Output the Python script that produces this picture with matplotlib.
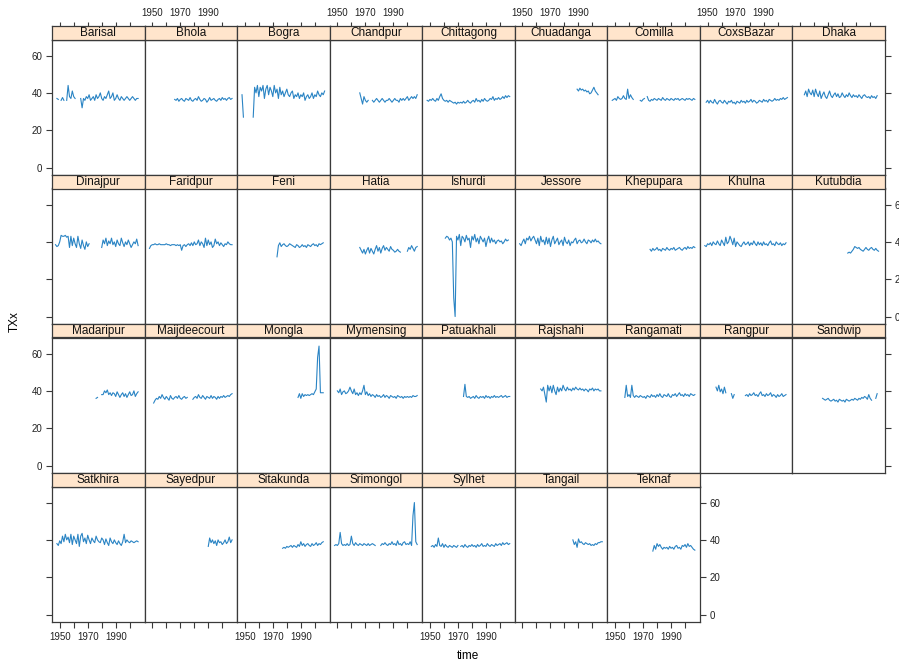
import numpy as np
import matplotlib
matplotlib.use("Agg")
import matplotlib.pyplot as plt

plt.rcParams['font.family'] = ['Liberation Sans', 'DejaVu Sans']

# ---------------- data ----------------
stations = ["Barisal", "Bhola", "Bogra", "Chandpur", "Chittagong", "Chuadanga", "Comilla",
            "CoxsBazar", "Dhaka", "Dinajpur", "Faridpur", "Feni", "Hatia", "Ishurdi", "Jessore",
            "Khepupara", "Khulna", "Kutubdia", "Madaripur", "Maijdeecourt", "Mongla", "Mymensing",
            "Patuakhali", "Rajshahi", "Rangamati", "Rangpur", "Sandwip", "Satkhira", "Sayedpur",
            "Sitakunda", "Srimongol", "Sylhet", "Tangail", "Teknaf"]

start_years = [1948, 1966, 1948, 1966, 1948, 1989, 1948, 1949, 1953, 1947, 1948, 1973, 1966, 1961,
               1948, 1975, 1948, 1984, 1976, 1951, 1988, 1950, 1974, 1963, 1957, 1956, 1966, 1948,
               1990, 1977, 1948, 1951, 1986, 1977]

barisal = [37, 36.5, None, 36, 37.5, 36, None, 36, 44, 38, 37, 41, 38, 37, None, None, None, 37, 32,
           37, 36, 38, 37, 39, 36, 37, 38, 36, 39, 37, 38, 40, 37, 36, 38, 37, 39, 41, 37, 38, 40,
           36, 37, 39, 37, 36, 38, 37, 36, 37, 38, 37, 36, 37, 38, 37, 36, 37, 37]
bhola = [36.5, 36, 37, 35.5, 36.5, 37, 36, 35.5, 37, 36.5, 36, 37.5, 36, 35.5, 36.5, 37, 36, 38,
         36.5, 35.5, 36, 37, 36.5, 35, 36, 37.5, 36, 36.5, 37, 36, 35.5, 36.5, 37, 36, 37.5, 36.5,
         37, 36, 37, 37.5, 36.5, 37]
bogra = [39, 27, None, None, None, None, None, None, 27, 43, 40, 44, 38, 43, 41, 44, 37, 42, 44, 39,
         43, 41, 38, 44, 40, 42, 37, 43, 39, 41, 38, 40, 42, 39, 38, 40, 41, 37, 39, 38, 40, 37, 39,
         38, 40, 36, 38, 39, 37, 38, 40, 37, 39, 38, 41, 39, 38, 40, 39, 41]
chandpur = [40, 37, 34, 38, 36, 35, 36, None, None, 36, 35, 36, 37, 36, 35, 36, 37, 36, 35, 36, 36,
            37, 36, 35, 36, 37, 36, 36, 35, 37, 36, 37, 36, 37, 38, 36, 37, 38, 37, 38, 37, 39]
chittagong = [36, 35.5, 36.5, 36, 37, 36, 35.5, 37, 36, 38, 39.5, 37, 36, 35.5, 36, 35, 36, 35.5,
              35, 34.5, 35, 34, 35, 34.5, 35, 34.5, 35.5, 34.5, 35, 36, 35, 34.5, 35.5, 36, 35, 37,
              35.5, 36, 35, 36.5, 35.5, 37, 36, 35.5, 36, 37, 36.5, 38, 36, 37, 36.5, 37.5, 36.5,
              37, 38, 37, 38.5, 37.5, 38.5, 38]
chuadanga = [42, 41, 42.5, 41.5, 42, 41, 41.5, 40.5, 41, 39.5, 40, 41.5, 43, 41, 40, 39]
comilla = [36, 36.5, 37, 36, 38, 37, 36.5, 37, 38.5, 37, 36.5, 42, 37, 39, 37.5, 36.5, None, 36,
           None, None, 36, 35.5, 36.5, 37, None, 38, 36, 35.5, 36.5, 36, 37, 36.5, 36, 37, 36.5,
           36, 37.5, 36.5, 36, 37, 36.5, 36, 37, 36.5, 36, 37, 36.5, 37, 36, 36.5, 37, 36.5, 36,
           37, 36.5, 37, 36.5, 36, 37, 36.5]
coxsbazar = [35, 36, 34.5, 36, 35, 34.5, 36.5, 35, 34, 35.5, 36, 35, 34.5, 36, 35, 34, 35.5, 35, 36,
             34.5, 35, 34, 35.5, 35, 34.5, 36, 35, 35.5, 34.5, 36, 35, 35.5, 36.5, 35, 36, 35.5,
             34.5, 35, 36, 35.5, 35, 36.5, 35.5, 36, 35, 36.5, 36, 35.5, 36, 37, 36, 36.5, 36, 37,
             36.5, 37.5, 36.5, 37, 37.5]
dhaka = [39, 41, 38, 42, 40, 39, 41.5, 38, 42, 39.5, 38, 41, 37, 39, 40.5, 38, 37, 39, 41, 38.5,
         37.5, 39, 40, 38, 39.5, 37.5, 38, 40, 38.5, 37.5, 39, 38, 40, 38.5, 37.5, 39, 38, 38.5,
         37.5, 39, 38, 37, 38.5, 39, 38, 37.5, 38, 37, 38.5, 37.5, 38, 37, 38.5]
dinajpur = [38.5, 37.5, 38, 40, 43.5, 43, 43, 43.5, 42.5, 43, 37, 43, 38, 42, 39, 37, 43, 39, 36.5,
            41, 38, 36, 40, 37.5, 39, None, None, None, None, None, None, None, None, 37, 41, 39,
            42, 38, 40.5, 39, 42, 38.5, 40, 37.5, 41, 39, 38, 42, 39.5, 37.5, 40, 38.5, 41, 39, 37,
            38.5, 40, 39, 41.5, 38]
faridpur = [36.5, 38, 38.5, 38.5, 39, 38.5, 38.5, 39, 38.5, 38.5, 38.5, 38.5, 39, 38.5, 38.5, 38,
            38.5, 38.5, 38.5, 38, 38.5, 38, 38.5, 35.5, 38, 38.5, 37.5, 38.5, 39, 38, 39.5, 38, 40,
            38.5, 39, 41, 38, 40, 39, 37, 42, 38, 41, 38.5, 40, 37, 38, 41.5, 39, 40, 38, 39.5, 38.5,
            37.5, 39, 38.5, 40, 39, 38.5, 38.5]
feni = [32, 38, 39.5, 37.5, 38.5, 39, 38, 37.5, 38, 39, 38.5, 38, 37.5, 37, 38.5, 38, 37, 37.5,
        38.5, 37.5, 38, 37, 38.5, 38, 37.5, 38.5, 39, 38, 38.5, 37.5, 39, 38.5, 39, 39.5]
hatia = [37, 35.5, 34, 36, 33.5, 35.5, 37, 34, 36.5, 35, 33.5, 36, 38, 35, 37, 34, 36.5, 38, 35.5,
         37, 36, 35, 37.5, 36, 35.5, 34.5, 35, 36, 35, 34.5, None, None, None, None, 35, 37, 36, 38,
         36.5, 35, 37, 37.5]
ishurdi = [42, 43, 42.5, 41, 42, 40, 10, 0, 43, 41, 44, 38, 43, 42, 40, 43.5, 41, 42, 37, 43, 41, 44,
           40, 42, 39, 43, 41.5, 40, 42, 37.5, 41, 43, 39.5, 42, 40, 41, 39, 40.5, 41, 40, 40.5, 39,
           40, 41.5, 40.5, 41]
jessore = [39, 38, 40, 41.5, 39, 42, 41, 43, 40.5, 42, 43, 41, 39, 42, 38, 43, 40, 41, 38.5, 42.5,
           39, 42, 37.5, 41, 43, 39, 40.5, 42, 38.5, 40, 41, 38, 42.5, 40, 39, 41, 38, 40, 39.5, 41,
           42, 39, 40.5, 41, 39.5, 40, 41.5, 40, 39, 41, 40.5, 39.5, 41, 40, 41.5, 40, 40.5, 39.5, 39]
khepupara = [36, 35, 36.5, 35.5, 36, 37, 35.5, 36, 35, 36.5, 36, 35.5, 37, 36, 35.5, 36.5, 36, 37,
             35.5, 36, 36.5, 37, 36, 35.5, 36.5, 37, 36, 37.5, 36.5, 37, 36.5, 37.5, 37]
khulna = [38, 37.5, 39, 38.5, 39.5, 38, 40, 39, 38.5, 40.5, 39, 38, 41, 39.5, 38, 42.5, 39, 40, 43,
          41, 38.5, 42, 37.5, 40, 39, 38, 37.5, 39, 40, 38.5, 39, 40, 38, 39.5, 38.5, 40.5, 39, 38,
          40, 38.5, 39.5, 38, 40, 38.5, 39, 38, 39.5, 40.5, 38.5, 39, 38, 40, 39, 38.5, 39.5, 38, 39,
          38.5, 39.5]
kutubdia = [34, 34.5, 34, 35, 36, 37.5, 37, 36.5, 37, 36, 35.5, 35, 36, 37, 36, 35.5, 36.5, 37, 36,
            35.5, 36.5, 35.5, 35]
madaripur = [36, 36.5, None, None, 38, 38, 40, 39, 40.5, 38, 39, 37.5, 39, 38.5, 37, 39.5, 38, 36.5,
             38, 39, 37, 38.5, 36.5, 38, 39.5, 37.5, 38, 40, 37, 38.5, 39.5]
maijdeecourt = [33.5, 35, 36, 35.5, 37, 36, 38, 36.5, 35.5, 37, 36, 35, 37.5, 36, 35.5, 36.5, 37, 36,
                37.5, 36, 35.5, 36.5, 37, 36, 36.5, None, None, None, 35.5, 36.5, 37, 36, 38, 36.5,
                36, 37.5, 36.5, 35.5, 37, 36.5, 36, 37.5, 36, 37, 36.5, 35.5, 37, 36, 37, 36.5, 37.5,
                36.5, 37, 37.5, 37, 38, 38.5]
mongla = [36.5, 38.5, 36, 38.5, 37, 38, 37.5, 38, 37.5, 38, 38.5, 38, 39.5, 41, 58, 64, 39, 39, 39]
mymensing = [40, 39, 41, 38, 39.5, 40, 38.5, 39, 40, 42, 40, 38.5, 41, 38, 39, 37.5, 39, 38, 40, 43,
             38, 39.5, 37.5, 38.5, 37, 38, 37.5, 36.5, 38, 37, 37.5, 36.5, 37, 38, 36.5, 37.5, 37, 36,
             37.5, 37, 36.5, 37, 36, 37.5, 37, 36.5, 37, 36, 37, 36.5, 37, 36.5, 37, 36.5, 37.5, 37,
             37, 37.5]
patuakhali = [37, 43.5, 37, 36.5, 37, 36, 36.5, 37, 36, 37.5, 36.5, 36, 37, 36.5, 37, 36, 37.5, 36.5,
              37, 36, 37, 36.5, 37.5, 36.5, 37, 36.5, 37, 37.5, 36.5, 37, 37.5, 36.5, 37, 37]
rajshahi = [41, 40, 42, 38, 34, 43, 40, 42.5, 39, 43, 40, 38, 42, 39.5, 41.5, 40, 43, 41, 40, 42,
            40.5, 41, 40, 41.5, 40.5, 42, 41, 40.5, 41.5, 40.5, 41, 40, 41, 40.5, 39.5, 41, 40.5,
            41.5, 40, 41, 40.5, 41, 40, 40]
rangamati = [36.5, 43, 37, 38, 36.5, 43, 37.5, 36.5, 37.5, 37, 36.5, 37.5, 37, 36.5, 37, 36, 37.5,
             37, 36.5, 38, 37, 37.5, 36.5, 38, 37, 38.5, 37, 36.5, 38, 37.5, 37, 38.5, 37, 36.5, 38,
             37.5, 38.5, 37, 38, 39, 37.5, 38, 37, 38.5, 37.5, 38, 37, 38.5, 38, 37.5, 38]
rangpur = [42, 40, 43, 39.5, 41, 38.5, 42, 39, None, None, None, 38.5, 36, 38, None, None, None, None,
           None, None, None, 37.5, 38, 37, 38.5, 37.5, 38, 39, 37.5, 38, 37, 38.5, 39.5, 37.5, 38,
           37, 38.5, 37.5, 38, 39, 37, 38, 37.5, 36.5, 38, 37, 37.5, 38.5, 37, 37.5, 38]
sandwip = [36, 35.5, 35, 35.5, 36, 35, 34.5, 35, 35.5, 34.5, 35, 34, 35.5, 35, 34.5, 35, 34, 35.5,
           35, 34.5, 35, 35.5, 35, 36, 35.5, 35, 36, 35.5, 36.5, 36, 37, 36.5, 35.5, 38, 36, 35,
           None, None, 36, 38.5]
satkhira = [38, 37, 39.5, 38, 42, 39, 43, 40, 41.5, 38.5, 43, 37.5, 42, 40, 38, 43, 36.5, 42, 43.5,
            39, 41, 38, 42.5, 40, 38, 41, 39.5, 38.5, 42, 40, 39, 38.5, 41, 40, 37.5, 40.5, 38.5, 37,
            41, 39, 38, 40, 38.5, 37.5, 39.5, 38, 37, 39, 43, 38.5, 40, 39, 38.5, 39.5, 39, 38.5, 39,
            39.5, 39]
sayedpur = [36.5, 41, 38.5, 40, 38, 39.5, 37, 40, 38.5, 39, 37.5, 38.5, 40, 38, 39, 41.5, 38.5, 40]
sitakunda = [35.5, 36, 35.5, 36.5, 36, 36.5, 37, 36, 37, 36.5, 36, 37.5, 36.5, 39, 37, 38, 36.5,
             37.5, 38, 37, 36.5, 38, 37, 37.5, 38.5, 37, 38, 37.5, 38.5, 39]
srimongol = [37, 37.5, 37, 38, 44, 38, 37, 37.5, 37, 38, 37, 37.5, 42, 38, 37, 38.5, 37.5, 37, 38,
             37.5, 37, 38, 37.5, 37, 38, 37, 37.5, 38, 37.5, 37, None, None, None, 37, 38, 37.5, 38.5,
             37.5, 37, 38, 37.5, 39, 37.5, 38, 37, 39.5, 37.5, 38, 37, 38.5, 39, 37.5, 38, 37.5, 39,
             37, 53, 60, 39, 37.5]
sylhet = [36.5, 37, 36, 37.5, 36.5, 41, 37, 36.5, 38, 36, 37.5, 36.5, 36, 37, 36.5, 36, 37, 36.5, 36,
          37, None, 36.5, 37, 36, 37.5, 36.5, 36, 37, 36.5, 37.5, 36.5, 37, 36, 37.5, 36.5, 37, 38,
          36.5, 37, 36.5, 38, 37, 36.5, 37.5, 37, 36.5, 38, 37, 37.5, 38, 37, 38.5, 37.5, 38, 38.5,
          37.5, 38]
tangail = [40, 37.5, 39, 36, 40.5, 38.5, 39, 38, 37.5, 38.5, 38, 37.5, 38, 37, 37.5, 37, 38, 37.5,
           38.5, 38.5, 39, 39]
teknaf = [34, 37, 35, 38, 36.5, 37.5, 36, 35, 36, 35.5, 36, 35, 36.5, 35.5, 36, 35, 36.5, 37, 35.5,
          36, 35, 37, 36.5, 37.5, 36, 38, 36.5, 37, 36, 35, 34.5]

series = [barisal, bhola, bogra, chandpur, chittagong, chuadanga, comilla, coxsbazar, dhaka,
          dinajpur, faridpur, feni, hatia, ishurdi, jessore, khepupara, khulna, kutubdia,
          madaripur, maijdeecourt, mongla, mymensing, patuakhali, rajshahi, rangamati, rangpur,
          sandwip, satkhira, sayedpur, sitakunda, srimongol, sylhet, tangail, teknaf]

x_ticks = [1950, 1960, 1970, 1980, 1990, 2000]
x_ticklabels = ["1950", "", "1970", "", "1990", ""]
y_ticks = [0, 20, 40, 60]
y_ticklabels = ["0", "20", "40", "60"]

# ---------------- layout ----------------
W, H = 899, 662
fig = plt.figure(figsize=(W / 100, H / 100), dpi=100)
fig.patch.set_facecolor("white")

ncol, nrow = 9, 4
x0, x1 = 52, 885
col_w = (x1 - x0) / ncol
top0 = 26
row_h = 149
strip_h = 13.5
XLIM = (1944.5, 2010.6)
YLIM = (-4.0, 68.6)
frame_col = "#3a3a3a"
line_col = "#2a84c4"
strip_col = "#FFE5CC"

n = len(stations)
for k in range(n):
    r, c = divmod(k, ncol)
    left = (x0 + c * col_w) / W
    width = col_w / W
    ptop = top0 + r * row_h
    ax = fig.add_axes([left, 1 - (ptop + row_h) / H, width, (row_h - strip_h) / H])
    sax = fig.add_axes([left, 1 - (ptop + strip_h) / H, width, strip_h / H])

    yrs = start_years[k] + np.arange(len(series[k]))
    vals = np.array(series[k], dtype=float)
    ax.plot(yrs, vals, color=line_col, lw=0.8)
    ax.set_xlim(*XLIM)
    ax.set_ylim(*YLIM)
    sax.set_xlim(*XLIM)
    sax.set_ylim(0, 1)
    sax.set_facecolor(strip_col)
    sax.text(0.5, 0.45, stations[k], transform=sax.transAxes, ha="center", va="center",
             fontsize=8.5, color="#111111")

    for a in (ax, sax):
        for s in a.spines.values():
            s.set_color(frame_col)
            s.set_linewidth(0.9)

    last_in_row = (c == ncol - 1) or (k == n - 1)
    is_bottom = (r == nrow - 1)

    ax.set_xticks(x_ticks)
    ax.set_xticklabels(x_ticklabels)
    ax.set_yticks(y_ticks)
    ax.set_yticklabels(y_ticklabels)
    ax.tick_params(axis="both", direction="out", length=4.0, width=0.8, color=frame_col,
                   labelsize=7, pad=3, labelcolor="#222222")
    ax.tick_params(axis="x", top=False, labeltop=False,
                   bottom=is_bottom, labelbottom=is_bottom and c % 2 == 0)
    ax.tick_params(axis="y", left=(c == 0), labelleft=(c == 0 and r % 2 == 0),
                   right=last_in_row, labelright=(last_in_row and r % 2 == 1))

    sax.set_yticks([])
    if r == 0:
        sax.set_xticks(x_ticks)
        sax.set_xticklabels(x_ticklabels)
        sax.tick_params(axis="x", direction="out", length=3.0, width=0.8, color=frame_col,
                        labelsize=7, pad=2.5, labelcolor="#222222",
                        top=True, labeltop=(c % 2 == 1), bottom=False, labelbottom=False)
    else:
        sax.set_xticks([])

fig.text(15 / W, 1 - 322 / H, "TXx", rotation=90, ha="center", va="center", fontsize=8.5)
fig.text(468 / W, 1 - 656 / H, "time", ha="center", va="center", fontsize=8.5)

fig.savefig("out.png", dpi=100, facecolor="white")
